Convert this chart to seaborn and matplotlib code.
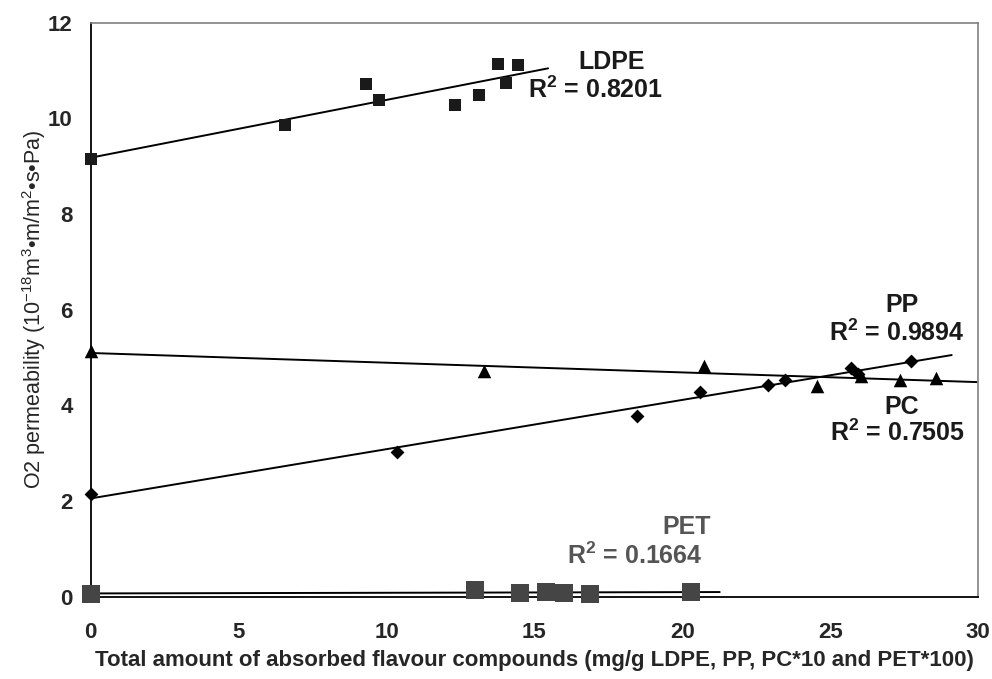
import numpy as np
import pandas as pd
import matplotlib
matplotlib.use("Agg")
import matplotlib.pyplot as plt
from matplotlib.font_manager import FontProperties
import seaborn as sns

# ---- data ----
ldpe_x = [0, 6.56, 9.32, 9.75, 12.32, 13.12, 13.77, 14.03, 14.43]
ldpe_y = [9.15, 9.87, 10.72, 10.38, 10.27, 10.48, 11.14, 10.74, 11.12]
pp_x = [0, 10.37, 18.45, 20.58, 22.89, 23.48, 25.71, 25.93, 27.74]
pp_y = [2.14, 3.02, 3.77, 4.28, 4.43, 4.53, 4.78, 4.66, 4.92]
pc_x = [0, 13.3, 20.73, 24.56, 26.05, 27.34, 28.58]
pc_y = [5.13, 4.72, 4.83, 4.41, 4.62, 4.53, 4.57]
pet_x = [0, 12.98, 14.5, 15.4, 15.99, 16.87, 20.28]
pet_y = [0.06, 0.13, 0.08, 0.10, 0.08, 0.06, 0.10]
trend_end = {"LDPE": 15.46, "PP": 29.1, "PC": 29.95, "PET": 21.26}
r2_values = {"LDPE": "0.8201", "PP": "0.9894", "PC": "0.7505", "PET": "0.1664"}
x_ticks = [0, 5, 10, 15, 20, 25, 30]
y_ticks = [0, 2, 4, 6, 8, 10, 12]

sns.set_style("white")
plt.rcParams["font.family"] = ["Liberation Sans", "DejaVu Sans"]
plt.rcParams["mathtext.fontset"] = "custom"
plt.rcParams["mathtext.rm"] = "Liberation Sans"
plt.rcParams["mathtext.bf"] = "Liberation Sans:bold"

def fp(size, weight="bold"):
    return FontProperties(family="Liberation Sans", weight=weight, size=size)

fig = plt.figure(figsize=(9.92, 6.79), dpi=100)
ax = fig.add_axes([0.0914, 0.1212, 0.8948, 0.8454])

series = {
    "LDPE": (ldpe_x, ldpe_y),
    "PP": (pp_x, pp_y),
    "PC": (pc_x, pc_y),
    "PET": (pet_x, pet_y),
}
styles = {
    "LDPE": dict(marker="s", s=80, color="#1a1a1a"),
    "PP": dict(marker="D", s=50, color="#000000"),
    "PC": dict(marker="^", s=95, color="#000000"),
    "PET": dict(marker="s", s=150, color="#454545"),
}

# trendlines (least squares fit of each series)
for name, (xs, ys) in series.items():
    k, b = np.polyfit(xs, ys, 1)
    tx = np.array([0.0, trend_end[name]])
    sns.lineplot(x=tx, y=k * tx + b, ax=ax, color="black", linewidth=1.4, zorder=2)

for name, (xs, ys) in series.items():
    st = styles[name]
    sns.scatterplot(x=xs, y=ys, ax=ax, marker=st["marker"], s=st["s"],
                    color=st["color"], edgecolor=st["color"], linewidth=0,
                    zorder=3, clip_on=False)

ax.set_xlim(0, 30)
ax.set_ylim(0, 12)
ax.set_xticks(x_ticks)
ax.set_yticks(y_ticks)
ax.set_xticklabels([str(t) for t in x_ticks])
ax.set_yticklabels([str(t) for t in y_ticks])
for lab in ax.get_xticklabels() + ax.get_yticklabels():
    lab.set_fontproperties(fp(16))
ax.tick_params(axis="y", direction="out", length=6, width=1, pad=7, color="#555555")
ax.tick_params(axis="x", direction="out", length=6, width=1, pad=12, color="#555555")

for side in ["left", "bottom"]:
    ax.spines[side].set_color("black")
    ax.spines[side].set_linewidth(1.3)
for side in ["top", "right"]:
    ax.spines[side].set_visible(True)
    ax.spines[side].set_color("#808080")
    ax.spines[side].set_linewidth(1.2)

ax.set_xlabel("Total amount of absorbed flavour compounds (mg/g LDPE, PP, PC*10 and PET*100)",
              fontproperties=fp(16), labelpad=5)
ax.set_ylabel(r"O2 permeability (10$^{-18}$m$^{3}$•m/m$^{2}$•s•Pa)",
              fontproperties=fp(15.5, "normal"))
ax.yaxis.set_label_coords(-0.048, 0.5)

def label(name, x1, y1, x2, y2, color="#1a1a1a"):
    ax.text(x1, y1, name, fontproperties=fp(18), color=color,
            ha="center", va="center")
    ax.text(x2, y2, r"R$^{\mathbf{2}}$ = " + r2_values[name], fontproperties=fp(18),
            color=color, ha="center", va="center")

label("LDPE", 17.61, 11.17, 17.05, 10.60)
label("PP", 27.41, 6.10, 27.26, 5.52)
label("PC", 27.41, 3.97, 27.26, 3.42)
label("PET", 20.15, 1.45, 18.40, 0.85, color="#555555")

fig.savefig("out.png", dpi=100)
